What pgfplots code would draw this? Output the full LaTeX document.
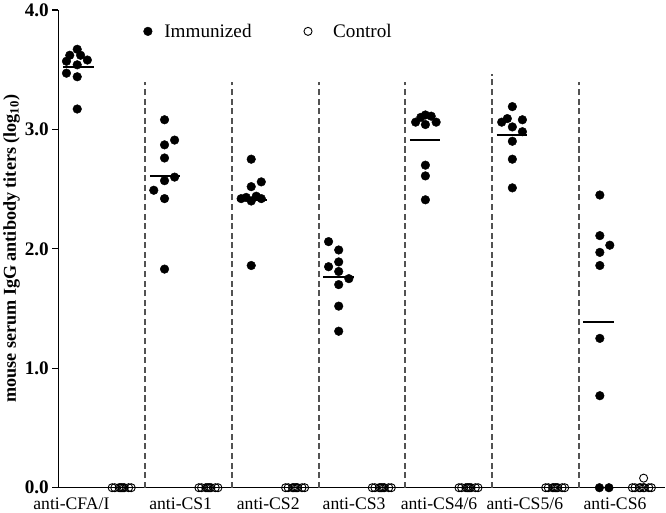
\documentclass[border=0pt]{standalone}
\usepackage{fontspec}
\setmainfont{Liberation Serif}
\usepackage{pgfplots}
\usepackage{pgfplotstable}
\pgfplotsset{compat=1.18}

\pgfplotstableread{
x y
0.217 3.67
0.131 3.62
0.256 3.62
0.334 3.58
0.093 3.57
0.217 3.54
0.093 3.47
0.217 3.44
0.217 3.17
1.224 3.08
1.340 2.91
1.224 2.87
1.224 2.76
1.340 2.60
1.224 2.57
1.100 2.49
1.224 2.42
1.224 1.83
2.224 2.75
2.340 2.56
2.224 2.52
2.108 2.42
2.166 2.43
2.224 2.40
2.282 2.44
2.340 2.42
2.224 1.86
3.116 2.06
3.233 1.99
3.233 1.89
3.116 1.85
3.233 1.81
3.350 1.75
3.233 1.70
3.233 1.52
3.233 1.31
4.120 3.06
4.180 3.10
4.233 3.12
4.300 3.11
4.233 3.04
4.357 3.06
4.233 2.70
4.233 2.61
4.233 2.41
5.236 3.19
5.178 3.09
5.113 3.06
5.352 3.08
5.236 3.02
5.352 2.98
5.236 2.90
5.236 2.75
5.236 2.51
6.245 2.45
6.245 2.11
6.360 2.03
6.245 1.97
6.245 1.86
6.245 1.25
6.245 0.77
6.240 0.00
6.350 0.00
}\immunized

\pgfplotstableread{
x y
0.62 0
0.65 0
0.70 0
0.715 0
0.73 0
0.745 0
0.76 0
0.81 0
0.84 0
1.62 0
1.65 0
1.70 0
1.715 0
1.73 0
1.745 0
1.76 0
1.81 0
1.84 0
2.62 0
2.65 0
2.70 0
2.715 0
2.73 0
2.745 0
2.76 0
2.81 0
2.84 0
3.62 0
3.65 0
3.70 0
3.715 0
3.73 0
3.745 0
3.76 0
3.81 0
3.84 0
4.62 0
4.65 0
4.70 0
4.715 0
4.73 0
4.745 0
4.76 0
4.81 0
4.84 0
5.62 0
5.65 0
5.70 0
5.715 0
5.73 0
5.745 0
5.76 0
5.81 0
5.84 0
6.62 0
6.65 0
6.70 0
6.715 0
6.745 0
6.76 0
6.81 0
6.84 0
6.75 0.08
}\control

\begin{document}
\begin{tikzpicture}
\begin{axis}[
  scale only axis,
  width=602pt, height=474pt,
  xmin=0, xmax=7, ymin=0, ymax=4,
  clip=false,
  axis x line*=bottom, axis y line*=left,
  axis line style={line width=1.4pt, black},
  xtick={0.15,1.41,2.42,3.41,4.39,5.38,6.42},
  xticklabels={anti-CFA/I,anti-CS1,anti-CS2,anti-CS3,anti-CS4/6,anti-CS5/6,anti-CS6},
  x tick label style={font=\fontsize{17.5}{20}\selectfont},
  major x tick style={draw=none},
  ytick={0,1,2,3,4},
  yticklabels={\textbf{0.0},\textbf{1.0},\textbf{2.0},\textbf{3.0},\textbf{4.0}},
  y tick label style={font=\fontsize{19}{21}\selectfont},
  tick align=outside,
  major tick length=6pt,
  major y tick style={line width=1.4pt, black},
  ylabel={mouse serum IgG antibody titers (log\textsubscript{10})},
  ylabel style={font=\fontsize{18}{20}\selectfont\bfseries, yshift=-2pt},
  legend style={draw=none, fill=none, at={(0.135,0.955)}, anchor=west,
    font=\fontsize{19}{22}\selectfont},
  legend columns=2,
  /tikz/every odd column/.append style={column sep=10pt},
  /tikz/every even column/.append style={column sep=50pt},
]
\addplot[only marks, mark=*, mark size=4.3pt, black] table {\immunized};
\addlegendentry{Immunized}
\addplot[only marks, mark=o, mark size=4pt, black, mark options={line width=0.9pt}] table {\control};
\addlegendentry{\hspace*{9pt}Control}

\addplot[forget plot, dash pattern=on 6pt off 3.5pt, line width=1.8pt, black!68] coordinates {(1,0) (1,3.40)};
\addplot[forget plot, dash pattern=on 6pt off 3.5pt, line width=1.8pt, black!68] coordinates {(2,0) (2,3.40)};
\addplot[forget plot, dash pattern=on 6pt off 3.5pt, line width=1.8pt, black!68] coordinates {(3.003,0) (3.003,3.40)};
\addplot[forget plot, dash pattern=on 6pt off 3.5pt, line width=1.8pt, black!68] coordinates {(4,0) (4,3.40)};
\addplot[forget plot, dash pattern=on 6pt off 3.5pt, line width=1.8pt, black!68] coordinates {(5,0) (5,3.46)};
\addplot[forget plot, dash pattern=on 6pt off 3.5pt, line width=1.8pt, black!68] coordinates {(6,0) (6,3.40)};

\addplot[forget plot, black, line width=2pt] coordinates {(0.055,3.52) (0.405,3.52)};
\addplot[forget plot, black, line width=2pt] coordinates {(1.055,2.61) (1.405,2.61)};
\addplot[forget plot, black, line width=2pt] coordinates {(2.055,2.41) (2.405,2.41)};
\addplot[forget plot, black, line width=2pt] coordinates {(3.055,1.76) (3.405,1.76)};
\addplot[forget plot, black, line width=2pt] coordinates {(4.055,2.91) (4.405,2.91)};
\addplot[forget plot, black, line width=2pt] coordinates {(5.055,2.95) (5.405,2.95)};
\addplot[forget plot, black, line width=2pt] coordinates {(6.055,1.39) (6.405,1.39)};
\end{axis}
\end{tikzpicture}
\end{document}
